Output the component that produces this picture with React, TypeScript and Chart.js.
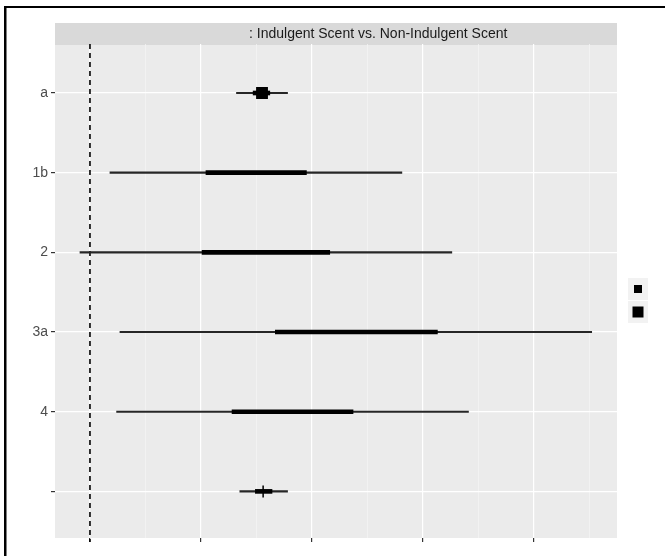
import React, { useEffect, useRef } from "react";
import { Chart, registerables } from "chart.js";

Chart.register(...registerables);

const categories = ["a", "1b", "2", "3a", "4", ""];
const estimate = [1.55, 1.5, 1.58, 2.4, 1.82, 1.56];
const lo95 = [1.32, 0.18, -0.09, 0.27, 0.24, 1.35];
const hi95 = [1.78, 2.81, 3.26, 4.52, 3.41, 1.78];
const lo80 = [1.47, 1.045, 1.01, 1.67, 1.28, 1.49];
const hi80 = [1.62, 1.95, 2.16, 3.13, 2.37, 1.64];
const pointStyles = ["rect", "rect", "rect", "rect", "rect", "cross"];
const pointRadii = [7.3, 1.2, 1.2, 1.2, 1.2, 6];
const xTickValues = [0, 0.5, 1, 1.5, 2, 2.5, 3, 3.5, 4, 4.5];
const stripTitle = ": Indulgent Scent vs. Non-Indulgent Scent";
const legendSizes = [8, 11];

const FONT = "'Liberation Sans', Arial, Helvetica, sans-serif";

const decorPlugin = {
  id: "decor",
  beforeDraw(chart: any) {
    const { ctx, chartArea } = chart;
    ctx.save();
    ctx.fillStyle = "#ebebeb";
    ctx.fillRect(chartArea.left, chartArea.top, chartArea.right - chartArea.left, chartArea.bottom - chartArea.top);
    ctx.fillStyle = "#d9d9d9";
    ctx.fillRect(chartArea.left, 23, chartArea.right - chartArea.left, chartArea.top - 22);
    ctx.fillStyle = "#1a1a1a";
    ctx.font = `14px ${FONT}`;
    ctx.textBaseline = "middle";
    ctx.textAlign = "left";
    ctx.fillText(stripTitle, 249, (23 + chartArea.top) / 2 + 0.5);
    ctx.restore();
  },
  beforeDatasetsDraw(chart: any) {
    const { ctx, chartArea, scales } = chart;
    const x0 = scales.x.getPixelForValue(0);
    ctx.save();
    ctx.strokeStyle = "#000";
    ctx.lineWidth = 1.6;
    ctx.setLineDash([5, 4]);
    ctx.beginPath();
    ctx.moveTo(x0, chartArea.top);
    ctx.lineTo(x0, chartArea.bottom + 4);
    ctx.stroke();
    ctx.restore();
  },
  afterDraw(chart: any) {
    const { ctx } = chart;
    ctx.save();
    const keyX = 628;
    let keyY = 278;
    legendSizes.forEach((s) => {
      ctx.fillStyle = "#f2f2f2";
      ctx.fillRect(keyX, keyY, 20, 22);
      ctx.fillStyle = "#000";
      ctx.fillRect(keyX + 10 - s / 2, keyY + 11 - s / 2, s, s);
      keyY += 23;
    });
    ctx.fillStyle = "#000";
    ctx.fillRect(4, 6, 661, 2);
    ctx.fillRect(4, 6, 2.5, 550);
    ctx.restore();
  },
};

export default function App() {
  const ref = useRef<HTMLCanvasElement>(null);
  useEffect(() => {
    if (!ref.current) return;
    const thin = categories.map((_, i) => ({ y: i, x: [lo95[i], hi95[i]] }));
    const thick = categories.map((_, i) => ({ y: i, x: [lo80[i], hi80[i]] }));
    const pts = categories.map((_, i) => ({ x: estimate[i], y: i }));
    const chart = new Chart(ref.current, {
      type: "bar",
      data: {
        datasets: [
          {
            type: "scatter",
            data: pts,
            pointStyle: pointStyles as any,
            pointRadius: pointRadii,
            backgroundColor: "#000",
            borderColor: "#000",
            borderWidth: 1.5,
            order: 0,
          } as any,
          {
            type: "bar",
            indexAxis: "y",
            data: thick as any,
            backgroundColor: "#000",
            barThickness: 4,
            grouped: false,
            order: 1,
          } as any,
          {
            type: "bar",
            indexAxis: "y",
            data: thin as any,
            backgroundColor: "#262626",
            barThickness: 1.5,
            grouped: false,
            order: 2,
          } as any,
        ],
      },
      options: {
        animation: false,
        responsive: false,
        devicePixelRatio: 1,
        events: [],
        layout: { padding: { left: 0, right: 48, top: 44, bottom: 0 } },
        plugins: { legend: { display: false }, tooltip: { enabled: false } },
        scales: {
          x: {
            type: "linear",
            position: "bottom",
            offset: false,
            min: -0.315,
            max: 4.748,
            afterBuildTicks: (scale: any) => {
              scale.ticks = xTickValues.map((v) => ({ value: v }));
            },
            afterFit: (scale: any) => {
              scale.height = 18;
            },
            border: { display: false },
            grid: {
              offset: false,
              color: (c: any) => (c.tick && c.tick.value % 1 === 0 ? "#ffffff" : "#f4f4f4"),
              lineWidth: (c: any) => (c.tick && c.tick.value % 1 === 0 ? 1.2 : 0.8),
              tickColor: (c: any) => (c.tick && c.tick.value % 1 === 0 ? "#333333" : "rgba(0,0,0,0)"),
              tickLength: 4,
            },
            ticks: { callback: () => "", autoSkip: false },
          },
          y: {
            type: "linear",
            position: "left",
            offset: false,
            reverse: true,
            min: -0.615,
            max: 5.585,
            afterBuildTicks: (scale: any) => {
              scale.ticks = categories.map((_, i) => ({ value: i }));
            },
            afterFit: (scale: any) => {
              scale.width = 55;
            },
            border: { display: false },
            grid: {
              offset: false,
              color: "#ffffff",
              lineWidth: 1.2,
              tickColor: "#333333",
              tickLength: 4,
            },
            ticks: {
              autoSkip: false,
              padding: 3,
              color: "#4d4d4d",
              font: { family: FONT, size: 14 },
              callback: (v: any) => categories[Math.round(Number(v))] ?? "",
            },
          },
        },
      } as any,
      plugins: [decorPlugin],
    });
    return () => chart.destroy();
  }, []);
  return (
    <div style={{ position: "fixed", left: 0, top: 0, width: 665, height: 556, background: "#fff" }}>
      <canvas ref={ref} width={665} height={556} style={{ width: 665, height: 556, display: "block" }} />
    </div>
  );
}
